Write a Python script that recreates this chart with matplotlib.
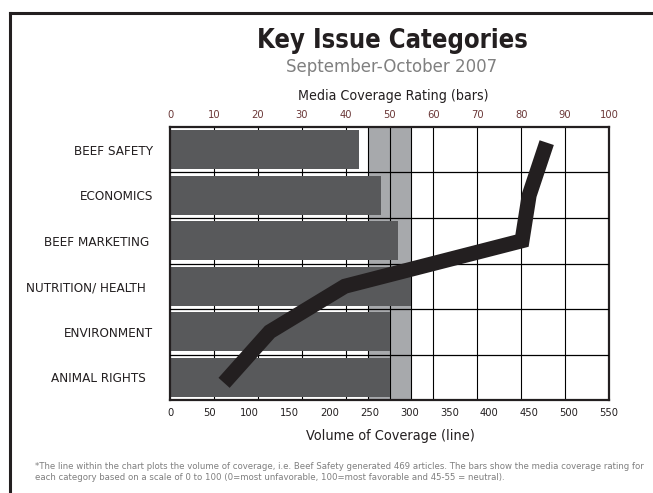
import matplotlib
matplotlib.use("Agg")
import matplotlib.pyplot as plt
from matplotlib.lines import Line2D

plt.rcParams["font.family"] = ["DejaVu Sans"]
plt.rcParams["font.stretch"] = "condensed"

categories = ["BEEF SAFETY", "ECONOMICS", "BEEF MARKETING ", "NUTRITION/ HEALTH  ",
              "ENVIRONMENT", "ANIMAL RIGHTS  "]
rating = [43, 48, 52, 55, 50, 50]          # media coverage rating (bars, 0-100)
volume = [469, 450, 441, 219, 125, 74]     # volume of coverage (line, articles)
neutral = (45, 55)
rating_ticks = list(range(0, 101, 10))
volume_ticks = list(range(0, 551, 50))

BAR = "#58595b"
BAND = "#a7a9ac"
INK = "#231f20"

W, H = 653, 493
fig = plt.figure(figsize=(W / 100, H / 100), dpi=100)

def fx(px):
    return px / W

def fy(py):
    return 1 - py / H

ax = fig.add_axes([fx(170), fy(400), fx(609) - fx(170), fy(127) - fy(400)])
n = len(categories)
ypos = [n - 0.5 - i for i in range(n)]

# neutral band, grid, then bars on top
ax.axvspan(*neutral, color=BAND, zorder=0, lw=0)
for v in rating_ticks[1:-1] + list(neutral):
    ax.axvline(v, color="black", lw=0.8, zorder=1)
ax.barh(ypos, rating, height=0.86, color=BAR, zorder=2)
for k in range(1, n):
    ax.axhline(k, color="black", lw=0.9, zorder=3)

ax.set_xlim(0, 100)
ax.set_ylim(0, n)
ax.set_yticks(ypos)
ax.set_yticklabels(categories, fontsize=9.6, color=INK)
ax.tick_params(axis="y", length=0, pad=12)
for s in ax.spines.values():
    s.set_linewidth(1.6)
    s.set_color(INK)

# volume line on its own x scale
ax2 = ax.twiny()
ax2.plot(volume, ypos, color=INK, lw=10.8, solid_capstyle="projecting",
         solid_joinstyle="miter", zorder=5)
ax2.set_xlim(0, 550)
ax2.set_ylim(0, n)
ax2.xaxis.tick_bottom()
ax2.set_xticks(volume_ticks)
ax2.tick_params(axis="x", length=0, pad=6, labelsize=8, labelcolor=INK)
ax2.patch.set_visible(False)
for s in ax2.spines.values():
    s.set_visible(False)

# rating scale along the top
ax.xaxis.tick_top()
ax.set_xticks(rating_ticks)
ax.tick_params(axis="x", length=0, pad=5, labelsize=8, labelcolor="#6b3838")

fig.text(fx(392), fy(48), "Key Issue Categories", ha="center", va="baseline",
         fontsize=18.4, fontweight="bold", color=INK)
fig.text(fx(392), fy(72), "September-October 2007", ha="center", va="baseline",
         fontsize=13.3, color="#808080")
fig.text(fx(393), fy(100), "Media Coverage Rating (bars)", ha="center", va="baseline",
         fontsize=10.2, color=INK)
fig.text(fx(390), fy(440), "Volume of Coverage (line)", ha="center", va="baseline",
         fontsize=10.4, color=INK)
fig.text(fx(35), fy(472),
         "*The line within the chart plots the volume of coverage, i.e. Beef Safety generated 469 articles. "
         "The bars show the media coverage rating for\n"
         "each category based on a scale of 0 to 100 (0=most unfavorable, 100=most favorable and 45-55 = neutral).",
         ha="left", va="center", fontsize=6.8, color="#7f7f7f", linespacing=1.3)

# outer frame, open at right and bottom
fig.add_artist(Line2D([fx(9.5), fx(9.5)], [fy(12.5), 0], color=INK, lw=2.2))
fig.add_artist(Line2D([fx(9.5), 1], [fy(12.5), fy(12.5)], color=INK, lw=2.2))

fig.savefig("out.png", dpi=100)
